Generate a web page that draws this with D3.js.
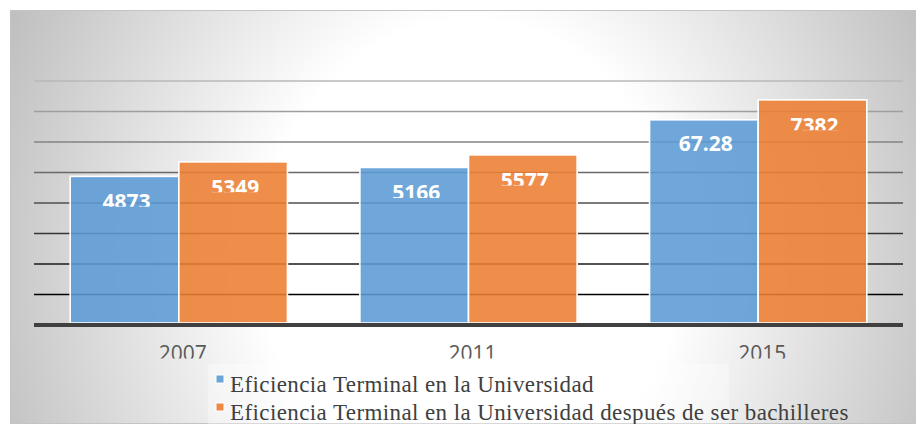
<!DOCTYPE html>
<html><head><meta charset="utf-8">
<script src="https://cdn.jsdelivr.net/npm/d3@7"></script>
<style>html,body{margin:0;padding:0;background:#fff;}svg{display:block;}</style>
</head><body>
<script>
const categories = ["2007", "2011", "2015"];
const seriesNames = ["Eficiencia Terminal en la Universidad", "Eficiencia Terminal en la Universidad después de ser bachilleres"];
const series1 = [48.73, 51.66, 67.28];
const series2 = [53.49, 55.77, 73.82];
const labels1 = ["4873", "5166", "67.28"];
const labels2 = ["5349", "5577", "7382"];
const yTickValues = [10, 20, 30, 40, 50, 60, 70, 80];
const colors = ["#5b9bd5", "#ed7d31"];

const W = 916, H = 428;
const svg = d3.select("body").append("svg").attr("width", W).attr("height", H);
const defs = svg.append("defs");
const rg = defs.append("radialGradient").attr("id", "bg")
  .attr("gradientUnits", "userSpaceOnUse")
  .attr("cx", 470).attr("cy", 260).attr("r", 520)
  .attr("gradientTransform", "translate(470,260) scale(1,1.15) translate(-470,-260)");
rg.append("stop").attr("offset", 0).attr("stop-color", "#ffffff");
rg.append("stop").attr("offset", 0.4).attr("stop-color", "#ffffff");
rg.append("stop").attr("offset", 1).attr("stop-color", "#bcbcbc");

defs.append("clipPath").attr("id", "panelClip").append("rect")
  .attr("x", 10).attr("y", 10).attr("width", 906).attr("height", 414);
defs.append("clipPath").attr("id", "xlabClip").append("rect")
  .attr("x", 0).attr("y", 330).attr("width", W).attr("height", 28.5);

svg.append("rect").attr("x", 10.5).attr("y", 10.5).attr("width", 906).attr("height", 413)
  .attr("fill", "url(#bg)").attr("stroke", "#c4c4c4").attr("stroke-width", 1);

const x = d3.scaleBand().domain(categories).range([34, 903]).paddingInner(0.25).paddingOuter(0.125);
const x1 = d3.scaleBand().domain([0, 1]).range([0, x.bandwidth()]);
const y = d3.scaleLinear().domain([0, 80]).range([325, 81]);
const gridColor = d3.scaleLinear().domain([10, 80]).range(["#000000", "#b8b8b8"]);

// gridlines
svg.append("g").selectAll("line").data(yTickValues).join("line")
  .attr("x1", 34).attr("x2", 903)
  .attr("y1", d => y(d)).attr("y2", d => y(d))
  .attr("stroke", d => gridColor(d)).attr("stroke-width", 1.5);

const data = categories.map((c, i) => ({c, vals: [series1[i], series2[i]], labs: [labels1[i], labels2[i]]}));

const groups = svg.append("g").selectAll("g").data(data).join("g")
  .attr("transform", d => `translate(${x(d.c)},0)`);

groups.selectAll("rect").data(d => d.vals.map((v, k) => ({v, k}))).join("rect")
  .attr("x", d => x1(d.k)).attr("y", d => y(d.v))
  .attr("width", x1.bandwidth()).attr("height", d => y(0) - 2 - y(d.v))
  .attr("fill", d => colors[d.k]).attr("fill-opacity", 0.88)
  .attr("stroke", "#ffffff").attr("stroke-width", 1.6);

// value labels
let lid = 0;
groups.each(function(d) {
  const g = d3.select(this);
  d.vals.forEach((v, k) => {
    const t = d.labs[k];
    const full = t.includes(".");
    const top = y(v);
    const cx = x1(k) + x1.bandwidth() / 2 + 2;
    const text = g.append("text")
      .attr("x", cx).attr("y", top + (full ? 31 : 33))
      .attr("text-anchor", "middle")
      .attr("font-family", "'Open Sans', sans-serif").attr("font-weight", "bold")
      .attr("font-size", 21).attr("fill", "#ffffff").text(t);
    if (!full) {
      const id = "lc" + (lid++);
      defs.append("clipPath").attr("id", id).append("rect")
        .attr("x", x1(k)).attr("y", top).attr("width", x1.bandwidth()).attr("height", 30.5);
      text.attr("clip-path", `url(#${id})`);
    }
  });
});

// axis line
svg.append("line").attr("x1", 34).attr("x2", 903).attr("y1", y(0)).attr("y2", y(0))
  .attr("stroke", "#404040").attr("stroke-width", 4);

// x labels
svg.append("g").attr("clip-path", "url(#xlabClip)").selectAll("text").data(categories).join("text")
  .attr("x", d => x(d) + x.bandwidth() / 2 + 4).attr("y", 361)
  .attr("text-anchor", "middle")
  .attr("font-family", "'Open Sans', sans-serif").attr("font-size", 21)
  .attr("fill", "#595959").text(d => d);

// legend
const lg = svg.append("g").attr("clip-path", "url(#panelClip)");
lg.append("rect").attr("x", 208).attr("y", 364).attr("width", 521).attr("height", 62)
  .attr("fill", "#ffffff").attr("fill-opacity", 0.35);
seriesNames.forEach((n, i) => {
  lg.append("rect").attr("x", 216).attr("y", 375 + i * 28).attr("width", 8).attr("height", 8)
    .attr("fill", colors[i]).attr("fill-opacity", 0.9).attr("stroke", "#fff").attr("stroke-width", 1);
  lg.append("text").attr("x", 230).attr("y", 392 + i * 28)
    .attr("font-family", "'Liberation Serif', 'Times New Roman', serif").attr("font-size", 23)
    .attr("letter-spacing", 0.4)
    .attr("fill", "#404040").text(n);
});
</script>
</body></html>
